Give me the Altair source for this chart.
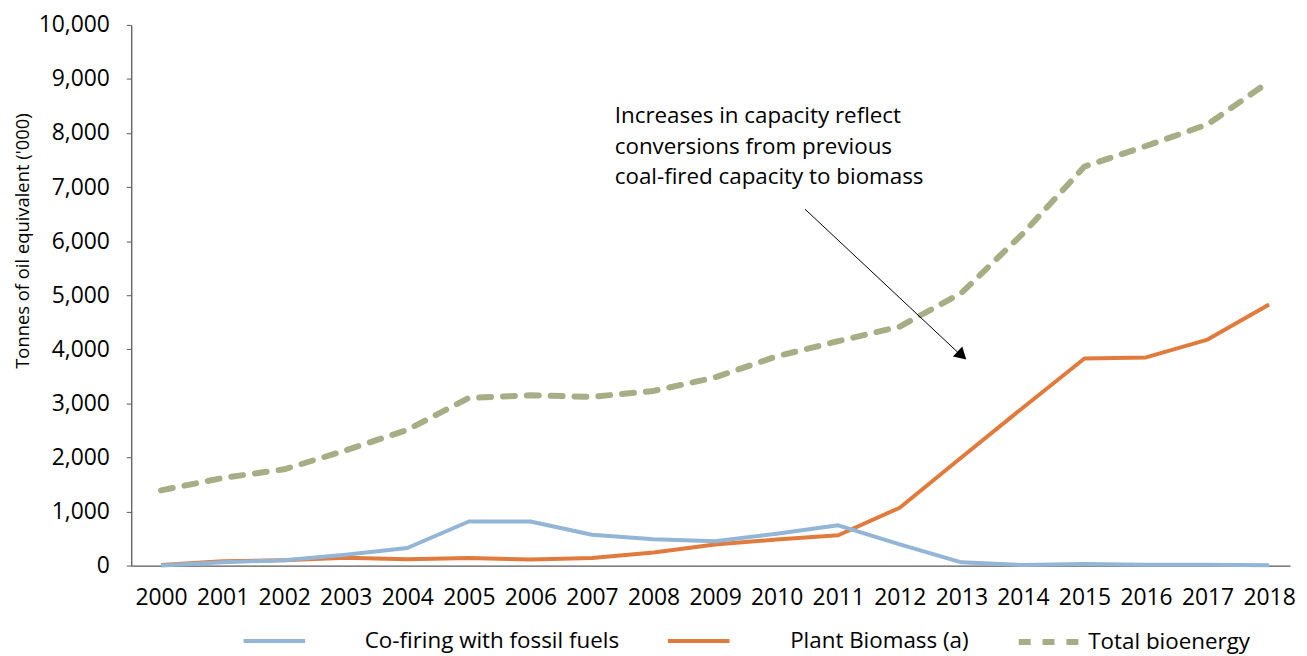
import altair as alt
import pandas as pd

years = list(range(2000, 2019))
cofiring = [0, 60, 100, 200, 325, 815, 815, 570, 485, 450, 590, 745, 390, 60, 10, 30, 15, 15, 5]
biomass = [10, 80, 100, 145, 115, 140, 110, 140, 240, 390, 480, 560, 1070, 2000, 2920, 3830, 3850, 4180, 4830]
total = [1390, 1620, 1780, 2130, 2510, 3100, 3150, 3120, 3230, 3480, 3870, 4150, 4420, 5040, 6140, 7380, 7760, 8160, 8950]

series_names = ["Co-firing with fossil fuels", "Plant Biomass (a)", "Total bioenergy"]
series_colors = ["#93B5D6", "#E07B3D", "#A7AE85"]

y_ticks = list(range(0, 10001, 1000))

note_lines = ["Increases in capacity reflect", "conversions from previous", "coal-fired capacity to biomass"]
note_pos = [2007.37, 8190]
arrow_start = [2010.46, 6593]
arrow_end = [2013.04, 3840]
arrow_head = [2013.01, 3885]

FONT = "Open Sans"

rows = []
for name, vals in zip(series_names, [cofiring, biomass, total]):
    for yr, v in zip(years, vals):
        rows.append({"year": yr, "value": v, "series": name})
df = pd.DataFrame(rows)

X = alt.X(
    "year:Q",
    scale=alt.Scale(domain=[1999.516, 2018.34], nice=False, zero=False),
    axis=alt.Axis(
        values=years, format="d", ticks=False, grid=False, labelFlush=False,
        labelOverlap=False, labelFontSize=23, labelFont=FONT, labelColor="#000000",
        labelPadding=21, domainColor="#595959", domainWidth=1.3, title=None,
    ),
)
Y = alt.Y(
    "value:Q",
    scale=alt.Scale(domain=[0, 10000], nice=False),
    axis=alt.Axis(
        values=y_ticks, format=",.0f", grid=False, tickSize=5, tickColor="#595959",
        domainColor="#595959", domainWidth=1.3, labelFontSize=23, labelFont=FONT,
        labelColor="#000000", labelPadding=17,
        title="Tonnes of oil equivalent  ('000)", titleFont=FONT, titleFontSize=18.5,
        titleFontWeight="normal", titleColor="#000000", titleAngle=270,
        titleX=-99, titleY=217, titleAlign="center", titleBaseline="bottom",
    ),
)

legend_x = [111, 538, 890]
label_offsets = [58, 59, 5]
widths = [4, 4, 6]
dashes = [None, None, [12, 12]]


def line_layer(i):
    name = series_names[i]
    mark_kw = dict(strokeWidth=widths[i], strokeCap="round" if dashes[i] else "butt", strokeJoin="round")
    leg_kw = dict(
        orient="none", legendX=legend_x[i], legendY=587, direction="horizontal",
        title=None, symbolType="stroke", symbolSize=3844, symbolStrokeWidth=widths[i],
        labelOffset=label_offsets[i], labelFontSize=22.5, labelFont=FONT,
        labelColor="#000000", labelLimit=500, padding=0,
    )
    if dashes[i]:
        mark_kw["strokeDash"] = dashes[i]
        leg_kw["symbolDash"] = dashes[i]
    return (
        alt.Chart(df)
        .transform_filter(alt.datum.series == name)
        .mark_line(**mark_kw)
        .encode(
            x=X, y=Y,
            color=alt.Color(
                "series:N",
                scale=alt.Scale(domain=[name], range=[series_colors[i]]),
                legend=alt.Legend(**leg_kw),
            ),
        )
    )


arrow_df = pd.DataFrame({
    "year": [arrow_start[0]], "value": [arrow_start[1]],
    "year2": [arrow_end[0]], "value2": [arrow_end[1]],
})
arrow = alt.Chart(arrow_df).mark_rule(color="#000000", strokeWidth=1).encode(
    x=X, y=Y, x2="year2:Q", y2="value2:Q"
)
head_df = pd.DataFrame({"year": [arrow_head[0]], "value": [arrow_head[1]]})
head = alt.Chart(head_df).mark_point(
    shape="triangle-up", filled=True, color="#000000", size=190, angle=133, opacity=1
).encode(x=X, y=Y)

note_df = pd.DataFrame({"year": [note_pos[0]], "value": [note_pos[1]], "text": [note_lines]})
note = alt.Chart(note_df).mark_text(
    align="left", baseline="alphabetic", font=FONT, fontSize=22.5, lineHeight=31, color="#000000"
).encode(x=X, y=Y, text="text")

chart = (
    alt.layer(line_layer(2), line_layer(1), line_layer(0), arrow, head, note)
    .resolve_scale(color="independent")
    .properties(
        width=1166, height=544,
        autosize=alt.AutoSizeParams(type="none"),
        padding={"left": 124, "top": 15, "right": 9, "bottom": 89},
    )
    .configure_view(stroke=None)
)

chart.save("out.html", embed_options={"renderer": "svg", "actions": False})
